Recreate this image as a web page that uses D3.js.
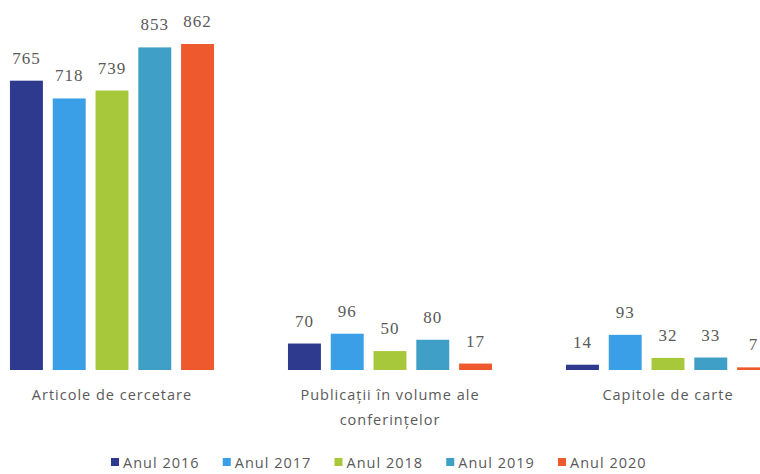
<!DOCTYPE html>
<html><head><meta charset="utf-8">
<script src="https://cdn.jsdelivr.net/npm/d3@7"></script>
<style>body{margin:0;background:#fff;}svg{display:block;}</style>
</head><body>
<svg id="c" width="760" height="474"></svg>
<script>
const categories = ["Articole de cercetare", "Publicații în volume ale conferințelor", "Capitole de carte"];
const categoryLines = [["Articole de cercetare"], ["Publicații în volume ale", "conferințelor"], ["Capitole de carte"]];
const seriesNames = ["Anul 2016", "Anul 2017", "Anul 2018", "Anul 2019", "Anul 2020"];
const anul2016 = [765, 70, 14];
const anul2017 = [718, 96, 93];
const anul2018 = [739, 50, 32];
const anul2019 = [853, 80, 33];
const anul2020 = [862, 17, 7];
const seriesValues = [anul2016, anul2017, anul2018, anul2019, anul2020];
const colors = ["#2d3a8e", "#3a9fe6", "#a8c83c", "#3f9fc6", "#ee5a2e"];

const svg = d3.select("#c");
const x0 = d3.scaleBand().domain(categories).range([-27, 807]).paddingInner(0.266).paddingOuter(0.133);
const x1 = d3.scaleBand().domain(seriesNames).range([0, x0.bandwidth()]).paddingInner(0.23).paddingOuter(0);
const y = d3.scaleLinear().domain([0, 862]).range([370, 44]);

const g = svg.append("g");
categories.forEach((cat, ci) => {
  const gg = g.append("g").attr("transform", `translate(${x0(cat)},0)`);
  seriesNames.forEach((s, si) => {
    const v = seriesValues[si][ci];
    gg.append("rect")
      .attr("x", x1(s)).attr("width", x1.bandwidth())
      .attr("y", y(v)).attr("height", y(0) - y(v))
      .attr("fill", colors[si]);
    gg.append("text")
      .attr("x", x1(s) + x1.bandwidth() / 2)
      .attr("y", y(v) - 17)
      .attr("text-anchor", "middle")
      .attr("font-family", "Liberation Serif, serif")
      .attr("font-size", 17)
      .attr("letter-spacing", 1)
      .attr("fill", "#5a5a5a")
      .text(v);
  });
  const lines = categoryLines[ci];
  lines.forEach((ln, li) => {
    svg.append("text")
      .attr("x", x0(cat) + x0.bandwidth() / 2)
      .attr("y", 400 + li * 25)
      .attr("text-anchor", "middle")
      .attr("font-family", "Open Sans, sans-serif")
      .attr("font-size", 14.5)
      .attr("letter-spacing", 1)
      .attr("fill", "#5a5a5a")
      .text(ln);
  });
});

// legend
const legendX = d3.scalePoint().domain(seriesNames).range([111, 558]);
const lg = svg.append("g");
seriesNames.forEach((s, si) => {
  const lx = legendX(s);
  lg.append("rect").attr("x", lx).attr("y", 458).attr("width", 8).attr("height", 8).attr("fill", colors[si]);
  lg.append("text").attr("x", lx + 12).attr("y", 468)
    .attr("font-family", "Open Sans, sans-serif").attr("font-size", 14.5)
    .attr("letter-spacing", 1)
    .attr("fill", "#5a5a5a").text(s);
});
</script>
</body></html>
